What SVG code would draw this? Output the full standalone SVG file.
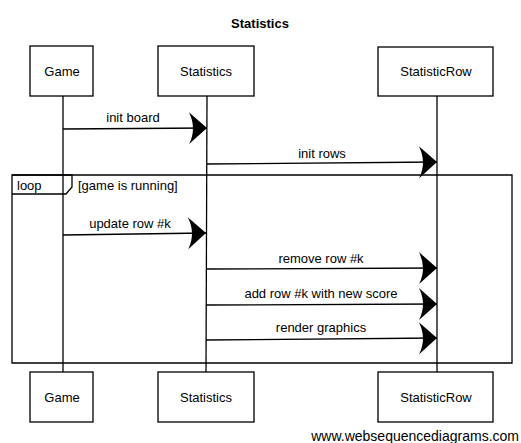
<svg xmlns="http://www.w3.org/2000/svg" width="521" height="443" viewBox="0 0 521 443">
<style>
.box{fill:#fff;stroke:#000;stroke-width:1.3}
.line{fill:none;stroke:#000;stroke-width:1.3}
.t{font-family:"Liberation Sans",Arial,sans-serif;font-size:13px;fill:#000}
.c{text-anchor:middle}
</style>
<defs>
<marker id="ah" markerUnits="userSpaceOnUse" markerWidth="20" markerHeight="36" viewBox="-19 -17 20 34" refX="0" refY="0" orient="auto">
<path d="M0,0 L-18,-16 Q-10,0 -18,16 Z" fill="#000"/>
</marker>
</defs>
<rect width="521" height="443" fill="#fff"/>
<text class="t c" x="260" y="28" font-weight="bold" font-size="14">Statistics</text>
<g id="lifelines">
<line class="line" x1="63" y1="96" x2="63" y2="372"/>
<line class="line" x1="207" y1="96" x2="206" y2="372"/>
<line class="line" x1="437" y1="96" x2="437" y2="372"/>
</g>
<g id="loop">
<path class="line" d="M12,175 L512,175 L512,363 L12,363 Z"/>
<path class="line" d="M12,175 L72,175 L72,187 L66,194 L12,194"/>
<text class="t" x="17" y="190">loop</text>
<text class="t" x="78" y="190">[game is running]</text>
</g>
<g id="game-top"><rect class="box" x="30" y="46" width="63" height="50"/><text class="t c" x="62" y="76">Game</text></g>
<g id="statistics-top"><rect class="box" x="158" y="46" width="96" height="50"/><text class="t c" x="206" y="76">Statistics</text></g>
<g id="statisticrow-top"><rect class="box" x="378" y="47" width="115" height="49"/><text class="t c" x="436" y="76">StatisticRow</text></g>
<g id="game-bottom"><rect class="box" x="30" y="372" width="63" height="50"/><text class="t c" x="62" y="402">Game</text></g>
<g id="statistics-bottom"><rect class="box" x="158" y="372" width="96" height="50"/><text class="t c" x="206" y="402">Statistics</text></g>
<g id="statisticrow-bottom"><rect class="box" x="378" y="372" width="115" height="50"/><text class="t c" x="436" y="402">StatisticRow</text></g>
<g id="connectors">
<line class="line" x1="63" y1="129" x2="207" y2="128" marker-end="url(#ah)"/>
<text class="t c" x="133" y="122">init board</text>
<line class="line" x1="207" y1="164" x2="437" y2="162" marker-end="url(#ah)"/>
<text class="t c" x="322" y="158">init rows</text>
<line class="line" x1="63" y1="235" x2="206" y2="233" marker-end="url(#ah)"/>
<text class="t c" x="130" y="228">update row #k</text>
<line class="line" x1="206" y1="269" x2="437" y2="268" marker-end="url(#ah)"/>
<text class="t c" x="321" y="263">remove row #k</text>
<line class="line" x1="206" y1="305" x2="437" y2="304" marker-end="url(#ah)"/>
<text class="t c" x="321" y="298">add row #k with new score</text>
<line class="line" x1="206" y1="340" x2="437" y2="338" marker-end="url(#ah)"/>
<text class="t c" x="321" y="332">render graphics</text>
</g>
<text x="519" y="441" text-anchor="end" font-family="Liberation Sans,Arial,sans-serif" font-size="14" fill="#000">www.websequencediagrams.com</text>
</svg>
